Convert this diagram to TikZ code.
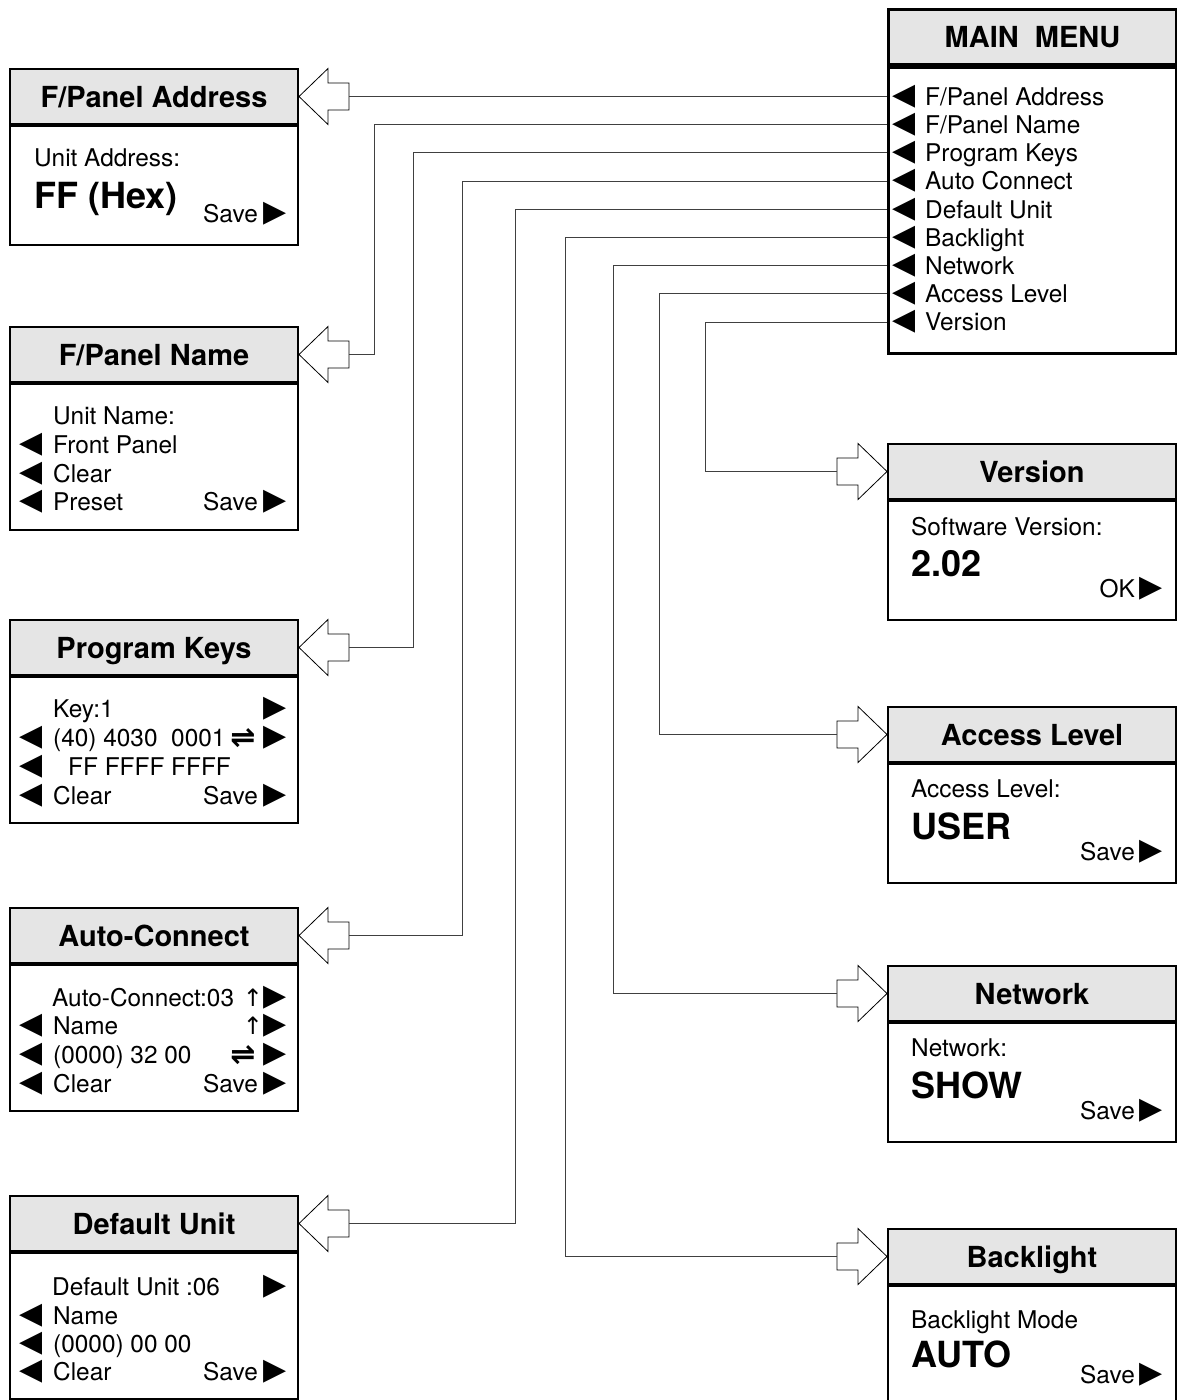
\documentclass[tikz,border=0pt]{standalone}
\usepackage{fontspec}
\setmainfont{TeX Gyre Heros}
\newfontfamily\symfont{DejaVu Sans}
\newfontfamily\symbold{DejaVu Sans Bold}
\usetikzlibrary{positioning}

\begin{document}
\begin{tikzpicture}[x=1pt,y=-1pt,
every node/.style={inner sep=0pt},
head/.style={draw,line width=2pt,fill=black!10,anchor=north west,
  minimum width=288pt,minimum height=55pt,text height=21pt,text depth=0pt,
  font=\fontsize{29}{31}\selectfont\bfseries},
panel/.style={draw,line width=2pt,anchor=north,minimum width=288pt},
txt/.style={anchor=west,text height=17.5pt,text depth=0pt,font=\fontsize{24.4}{26}\selectfont},
rtxt/.style={txt,anchor=east},
big/.style={anchor=west,text height=26pt,text depth=0pt,font=\fontsize{36}{38}\selectfont\bfseries},
tril/.style={anchor=west,font=\symfont\fontsize{30}{30}\selectfont},
trir/.style={anchor=east,font=\symfont\fontsize{30}{30}\selectfont},
sym/.style={anchor=center,font=\symfont\fontsize{24}{24}\selectfont},
swp/.style={anchor=center,font=\symbold\fontsize{30}{30}\selectfont},
wire/.style={draw=black!75,line width=1pt},
larrow/.pic={\draw[line width=0.8pt,fill=white] (0,0) -- (29,-28) -- (29,-13.5)
  -- (50,-13.5) -- (50,13.5) -- (29,13.5) -- (29,28) -- cycle;
  \coordinate (-tail) at (50,0);},
rarrow/.pic={\draw[line width=0.8pt,fill=white] (0,0) -- (-29,-28) -- (-29,-13.5)
  -- (-50,-13.5) -- (-50,13.5) -- (-29,13.5) -- (-29,28) -- cycle;
  \coordinate (-tail) at (-50,0);}]
\useasboundingbox (0,0) rectangle (1177,1400);

% main menu
\node[head,line width=3pt] (mm) at (887,8) {MAIN\ \ MENU};
\node[panel,line width=3pt,minimum height=286pt] (mmB) at (mm.south) {};
\node[tril] at (892,96.5) {◀};  \node[txt] (m1) at (925,96.5) {F/Panel Address};
\node[tril] at (892,124.7) {◀}; \node[txt] (m2) at (925,124.7) {F/Panel Name};
\node[tril] at (892,152.9) {◀}; \node[txt] (m3) at (925,152.9) {Program Keys};
\node[tril] at (892,181.1) {◀}; \node[txt] (m4) at (925,181.1) {Auto Connect};
\node[tril] at (892,209.3) {◀}; \node[txt] (m5) at (925,209.3) {Default Unit};
\node[tril] at (892,237.5) {◀}; \node[txt] (m6) at (925,237.5) {Backlight};
\node[tril] at (892,265.7) {◀}; \node[txt] (m7) at (925,265.7) {Network};
\node[tril] at (892,293.9) {◀}; \node[txt] (m8) at (925,293.9) {Access Level};
\node[tril] at (892,322.1) {◀}; \node[txt] (m9) at (925,322.1) {Version};

% F/Panel Address
\node[head] (fpa) at (9,68) {F/Panel Address};
\node[panel,minimum height=119pt] (fpaB) at (fpa.south) {};
\node[txt] at (34,158) {Unit Address:};
\node[big] at (34,195) {FF (Hex)};
\node[rtxt] at (258,214) {Save}; \node[trir] at (287,214) {▶};

% F/Panel Name
\node[head] (fpn) at (9,326) {F/Panel Name};
\node[panel,minimum height=146pt] (fpnB) at (fpn.south) {};
\node[txt] at (53,416) {Unit Name:};
\node[tril] at (19,445) {◀}; \node[txt] at (53,445) {Front Panel};
\node[tril] at (19,474) {◀}; \node[txt] at (53,474) {Clear};
\node[tril] at (19,502) {◀}; \node[txt] at (53,502) {Preset};
\node[rtxt] at (258,502) {Save}; \node[trir] at (287,502) {▶};

% Program Keys
\node[head] (pk) at (9,619) {Program Keys};
\node[panel,minimum height=146pt] (pkB) at (pk.south) {};
\node[txt] at (53,709) {Key:1}; \node[trir] at (287,709) {▶};
\node[tril] at (19,738) {◀}; \node[txt] at (53,738) {(40) 4030\ \ 0001};
\node[swp] at (243,738) {⇌}; \node[trir] at (287,738) {▶};
\node[tril] at (19,767) {◀}; \node[txt] at (68,767) {FF FFFF FFFF};
\node[tril] at (19,796) {◀}; \node[txt] at (53,796) {Clear};
\node[rtxt] at (258,796) {Save}; \node[trir] at (287,796) {▶};

% Auto-Connect
\node[head] (ac) at (9,907) {Auto-Connect};
\node[panel,minimum height=146pt] (acB) at (ac.south) {};
\node[txt] at (52,998) {Auto-Connect:03};
\node[sym] at (253,998) {↑}; \node[trir] at (287,998) {▶};
\node[tril] at (19,1026) {◀}; \node[txt] at (53,1026) {Name};
\node[sym] at (253,1026) {↑}; \node[trir] at (287,1026) {▶};
\node[tril] at (19,1055) {◀}; \node[txt] at (53,1055) {(0000) 32 00};
\node[swp] at (243,1055) {⇌}; \node[trir] at (287,1055) {▶};
\node[tril] at (19,1084) {◀}; \node[txt] at (53,1084) {Clear};
\node[rtxt] at (258,1084) {Save}; \node[trir] at (287,1084) {▶};

% Default Unit
\node[head] (du) at (9,1195) {Default Unit};
\node[panel,minimum height=146pt] (duB) at (du.south) {};
\node[txt] at (52,1287) {Default Unit :06}; \node[trir] at (287,1287) {▶};
\node[tril] at (19,1316) {◀}; \node[txt] at (53,1316) {Name};
\node[tril] at (19,1344) {◀}; \node[txt] at (53,1344) {(0000) 00 00};
\node[tril] at (19,1372) {◀}; \node[txt] at (53,1372) {Clear};
\node[rtxt] at (258,1372) {Save}; \node[trir] at (287,1372) {▶};

% Version
\node[head] (ver) at (887,443) {Version};
\node[panel,minimum height=119pt] (verB) at (ver.south) {};
\node[txt] at (911,527) {Software Version:};
\node[big] at (911,563) {2.02};
\node[rtxt] at (1135,589) {OK}; \node[trir] at (1163,589) {▶};

% Access Level
\node[head] (al) at (887,706) {Access Level};
\node[panel,minimum height=119pt] (alB) at (al.south) {};
\node[txt] at (911,789) {Access Level:};
\node[big] at (911,826) {USER};
\node[rtxt] at (1135,852) {Save}; \node[trir] at (1163,852) {▶};

% Network
\node[head] (nw) at (887,965) {Network};
\node[panel,minimum height=119pt] (nwB) at (nw.south) {};
\node[txt] at (911,1048) {Network:};
\node[big] at (911,1085) {SHOW};
\node[rtxt] at (1135,1111) {Save}; \node[trir] at (1163,1111) {▶};

% Backlight
\node[head] (bl) at (887,1228) {Backlight};
\node[panel,minimum height=125pt] (blB) at (bl.south) {};
\node[txt] at (911,1320) {Backlight Mode};
\node[big] at (911,1354) {AUTO};
\node[rtxt] at (1135,1375) {Save}; \node[trir] at (1163,1375) {▶};

% hollow arrows
\pic (pa) at (fpa.east) {larrow};
\pic (pn) at (fpn.east) {larrow};
\pic (pp) at (pk.east) {larrow};
\pic (pc) at (ac.east) {larrow};
\pic (pd) at (du.east) {larrow};
\pic (pv) at (ver.west) {rarrow};
\pic (pl) at (al.west) {rarrow};
\pic (pw) at (nw.west) {rarrow};
\pic (pb) at (bl.west) {rarrow};

% connectors
\draw[wire] (pa-tail) -- (pa-tail -| mmB.west);
\draw[wire] (pn-tail) -- ++(25,0) |- (mmB.west |- m2.west);
\draw[wire] (pp-tail) -- ++(64,0) |- (mmB.west |- m3.west);
\draw[wire] (pc-tail) -- ++(113,0) |- (mmB.west |- m4.west);
\draw[wire] (pd-tail) -- ++(166,0) |- (mmB.west |- m5.west);
\draw[wire] (pb-tail) -- ++(-272,0) |- (mmB.west |- m6.west);
\draw[wire] (pw-tail) -- ++(-224,0) |- (mmB.west |- m7.west);
\draw[wire] (pl-tail) -- ++(-178,0) |- (mmB.west |- m8.west);
\draw[wire] (pv-tail) -- ++(-132,0) |- (mmB.west |- m9.west);
\end{tikzpicture}
\end{document}
